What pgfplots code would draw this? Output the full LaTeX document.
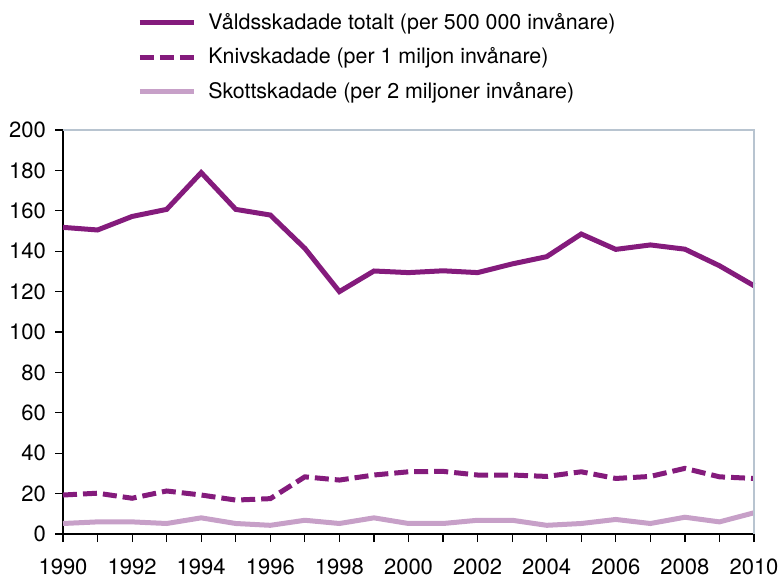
\documentclass[border=0pt]{standalone}
\usepackage{fontspec}
\setmainfont{TeX Gyre Heros}
\usepackage{pgfplots}
\pgfplotsset{compat=1.18}
\definecolor{dpurple}{RGB}{132,27,124}
\definecolor{lpurple}{RGB}{199,160,200}
\definecolor{framegray}{RGB}{184,196,208}
\begin{document}
\begin{tikzpicture}
\begin{axis}[
  scale only axis,
  width=345.5pt, height=202pt,
  xmin=1990, xmax=2010, ymin=0, ymax=200,
  xtick={1990,1992,...,2010},
  minor xtick={1991,1993,...,2009},
  ytick={0,20,...,200},
  axis lines=left,
  axis line style={-, black, line width=0.6pt},
  tick align=outside,
  major tick length=4pt, minor tick length=4pt,
  tick style={black, line width=0.6pt},
  xticklabel style={yshift=-5pt},
  yticklabel style={xshift=-1pt},
  /pgf/number format/assume math mode=true,
  /pgf/number format/1000 sep={},
  ticklabel style={font=\fontsize{11}{13}\selectfont},
  clip=false,
  legend cell align=left,
  legend style={draw=none, fill=none, inner sep=0pt,
    at={(axis description cs:0.107,1)}, anchor=north west, yshift=60.5pt,
    font=\fontsize{10.7}{12.8}\selectfont, row sep=3.6pt,
    nodes={inner sep=2pt}},
  legend image code/.code={\draw[#1] (0pt,0pt) -- (27pt,0pt); \path (31pt,0pt);},
  after end axis/.code={
    \draw[framegray, line width=0.8pt] (rel axis cs:0,1) -- (rel axis cs:1,1) -- (rel axis cs:1,0);
    \coordinate (SW) at (rel axis cs:0,0);
    \coordinate (NE) at (rel axis cs:1,1);
  },
]
\addplot[dpurple, line width=2.5pt] coordinates {
(1990,151.8) (1991,150.5) (1992,157.2) (1993,160.7) (1994,178.9) (1995,160.7)
(1996,157.9) (1997,141.4) (1998,120.0) (1999,130.2) (2000,129.4) (2001,130.3)
(2002,129.4) (2003,133.7) (2004,137.3) (2005,148.5) (2006,140.9) (2007,143.1)
(2008,141.0) (2009,132.8) (2010,122.9)};
\addlegendentry{Våldsskadade totalt (per 500 000 invånare)}
\addplot[dpurple, line width=2.5pt, dash pattern=on 7pt off 3pt] coordinates {
(1990,19.3) (1991,20.2) (1992,17.7) (1993,21.3) (1994,19.3) (1995,16.8)
(1996,17.5) (1997,28.3) (1998,26.7) (1999,29.2) (2000,30.8) (2001,31.0)
(2002,29.2) (2003,29.2) (2004,28.5) (2005,30.8) (2006,27.5) (2007,28.5)
(2008,32.5) (2009,28.3) (2010,27.5)};
\addlegendentry{Knivskadade (per 1 miljon invånare)}
\addplot[lpurple, line width=2.5pt] coordinates {
(1990,5.2) (1991,6.0) (1992,6.0) (1993,5.2) (1994,8.0) (1995,5.2)
(1996,4.3) (1997,6.8) (1998,5.2) (1999,8.0) (2000,5.2) (2001,5.2)
(2002,6.8) (2003,6.8) (2004,4.3) (2005,5.2) (2006,7.2) (2007,5.2)
(2008,8.3) (2009,6.0) (2010,10.5)};
\addlegendentry{Skottskadade (per 2 miljoner invånare)}
\end{axis}
\pgfresetboundingbox
\path[use as bounding box] ([xshift=-31.5pt,yshift=-21.5pt]SW) rectangle ([xshift=12.5pt,yshift=65pt]NE);
\end{tikzpicture}
\end{document}
